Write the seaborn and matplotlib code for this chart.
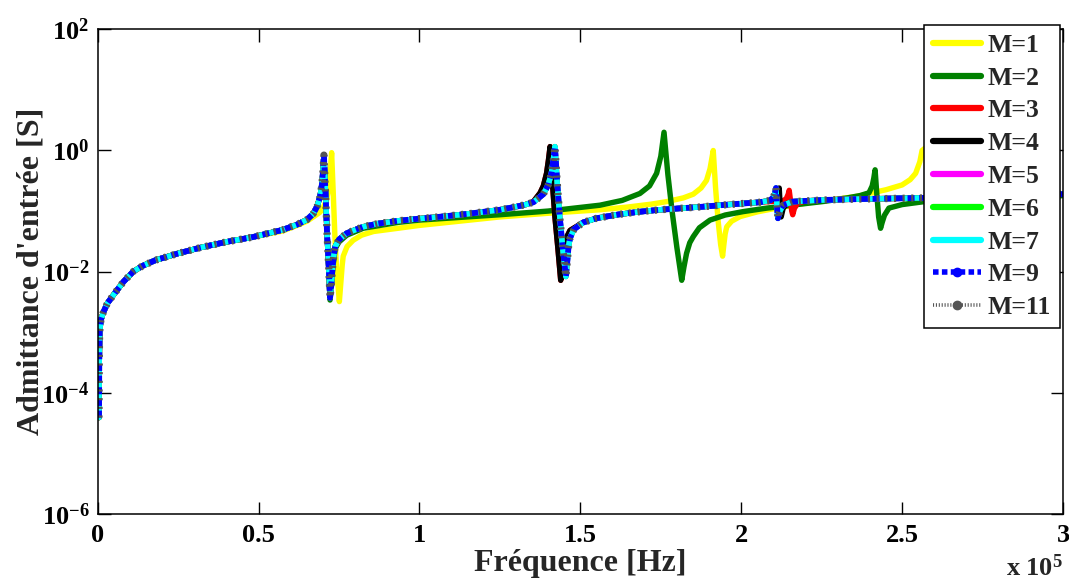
import pandas as pd
import matplotlib
matplotlib.use("Agg")
import matplotlib.pyplot as plt
import seaborn as sns
from matplotlib.lines import Line2D
from matplotlib.ticker import FixedLocator, NullLocator, FixedFormatter

# frequency in units of 1e5 Hz, admittance in S
freq_m1 = [0.004, 0.0045, 0.005, 0.006, 0.010, 0.017, 0.03, 0.054, 0.08, 0.11, 0.14, 0.18, 0.25, 0.32,
           0.40, 0.48, 0.575, 0.62, 0.65, 0.67, 0.69, 0.70, 0.711, 0.718, 0.722, 0.727, 0.732, 0.737,
           0.742, 0.751, 0.755, 0.760, 0.763, 0.775, 0.794, 0.82, 0.857, 0.933, 1.0, 1.1, 1.25, 1.4,
           1.561, 1.65, 1.72, 1.768, 1.82, 1.851, 1.875, 1.892, 1.903, 1.913, 1.92, 1.928, 1.936,
           1.942, 1.946, 1.950, 1.955, 1.97, 1.996, 2.05, 2.11, 2.213, 2.3, 2.369, 2.397, 2.45, 2.5,
           2.525, 2.542, 2.555, 2.562, 2.572, 2.585, 2.60, 2.61, 2.64, 2.75, 3.0]
adm_m1 = [3.9e-5, 1.5e-4, 4e-4, 1.0e-3, 1.6e-3, 2.1e-3, 3.0e-3, 4.5e-3, 6.8e-3, 1.0e-2, 1.25e-2, 1.55e-2,
          2.0e-2, 2.5e-2, 3.1e-2, 3.7e-2, 4.7e-2, 5.8e-2, 6.8e-2, 0.08, 0.095, 0.11, 0.15, 0.24, 0.4,
          0.92, 0.2, 0.04, 0.012, 3.2e-3, 6e-3, 0.013, 0.018, 0.026, 0.033, 0.04, 0.046, 0.052, 0.058,
          0.066, 0.08, 0.092, 0.105, 0.117, 0.13, 0.143, 0.165, 0.19, 0.24, 0.32, 0.5, 1.0, 0.25,
          0.07, 0.028, 0.018, 0.028, 0.042, 0.055, 0.068, 0.081, 0.097, 0.112, 0.139, 0.158, 0.178,
          0.195, 0.225, 0.27, 0.33, 0.42, 0.65, 1.0, 1.1, 0.2, 0.02, 0.05, 0.09, 0.13, 0.19]

freq_m2 = [0.004, 0.0045, 0.005, 0.006, 0.010, 0.017, 0.03, 0.054, 0.08, 0.11, 0.14, 0.18, 0.25, 0.32,
           0.40, 0.48, 0.575, 0.62, 0.65, 0.67, 0.682, 0.691, 0.697, 0.700, 0.703, 0.708, 0.713, 0.718,
           0.722, 0.726, 0.730, 0.738, 0.75, 0.774, 0.825, 0.933, 1.0, 1.1, 1.25, 1.4, 1.561, 1.63,
           1.685, 1.715, 1.737, 1.75, 1.760, 1.772, 1.785, 1.80, 1.815, 1.822, 1.83, 1.84, 1.851, 1.87,
           1.903, 1.95, 2.006, 2.08, 2.162, 2.26, 2.33, 2.369, 2.397, 2.407, 2.412, 2.416, 2.421, 2.427,
           2.433, 2.438, 2.445, 2.459, 2.5, 2.568, 2.8, 3.0]
adm_m2 = [3.9e-5, 1.5e-4, 4e-4, 1.0e-3, 1.6e-3, 2.1e-3, 3.0e-3, 4.5e-3, 6.8e-3, 1.0e-2, 1.25e-2, 1.55e-2,
          2.0e-2, 2.5e-2, 3.1e-2, 3.7e-2, 4.9e-2, 6.0e-2, 7.2e-2, 9.1e-2, 0.12, 0.174, 0.28, 0.45, 0.84,
          0.2, 0.04, 0.011, 3.4e-3, 5.5e-3, 0.011, 0.024, 0.031, 0.04, 0.052, 0.065, 0.071, 0.077,
          0.087, 0.1, 0.125, 0.15, 0.195, 0.26, 0.42, 0.8, 2.0, 0.4, 0.1, 0.025, 7.2e-3, 0.012, 0.02,
          0.03, 0.038, 0.053, 0.071, 0.086, 0.098, 0.112, 0.126, 0.145, 0.165, 0.18, 0.2, 0.26, 0.35,
          0.48, 0.2, 0.08, 0.052, 0.065, 0.085, 0.112, 0.128, 0.143, 0.16, 0.18]

freq_m3 = [0.004, 0.0045, 0.005, 0.006, 0.010, 0.017, 0.03, 0.054, 0.08, 0.11, 0.14, 0.18, 0.25, 0.32,
           0.40, 0.48, 0.575, 0.62, 0.65, 0.67, 0.682, 0.691, 0.697, 0.700, 0.703, 0.708, 0.713, 0.718,
           0.722, 0.726, 0.730, 0.734, 0.738, 0.75, 0.774, 0.80, 0.825, 0.87, 0.933, 1.0, 1.08, 1.15,
           1.25, 1.30, 1.33, 1.354, 1.375, 1.385, 1.395, 1.401, 1.406, 1.413, 1.421, 1.430, 1.439,
           1.443, 1.448, 1.455, 1.468, 1.509, 1.55, 1.613, 1.68, 1.747, 1.872, 1.96, 2.058, 2.10, 2.13,
           2.14, 2.146, 2.149, 2.153, 2.157, 2.160, 2.165, 2.175, 2.2, 2.25, 2.369, 2.568, 2.8, 3.0]
adm_m3 = [3.9e-5, 1.5e-4, 4e-4, 1.0e-3, 1.6e-3, 2.1e-3, 3.0e-3, 4.5e-3, 6.8e-3, 1.0e-2, 1.25e-2, 1.55e-2,
          2.0e-2, 2.5e-2, 3.1e-2, 3.7e-2, 4.9e-2, 6.0e-2, 7.2e-2, 9.1e-2, 0.12, 0.174, 0.28, 0.45, 0.84,
          0.2, 0.04, 0.012, 3.7e-3, 6e-3, 0.012, 0.019, 0.026, 0.034, 0.043, 0.049, 0.055, 0.062, 0.069,
          0.075, 0.082, 0.09, 0.105, 0.118, 0.128, 0.143, 0.2, 0.26, 0.42, 0.7, 1.16, 0.3, 0.08, 0.025,
          7.2e-3, 0.012, 0.022, 0.035, 0.048, 0.065, 0.076, 0.087, 0.097, 0.105, 0.117, 0.128, 0.14,
          0.145, 0.148, 0.16, 0.19, 0.22, 0.15, 0.1, 0.087, 0.11, 0.135, 0.147, 0.152, 0.158, 0.165,
          0.175, 0.19]

freq_m4 = [0.004, 0.0045, 0.005, 0.006, 0.010, 0.017, 0.03, 0.054, 0.08, 0.11, 0.14, 0.18, 0.25, 0.32,
           0.40, 0.48, 0.575, 0.62, 0.65, 0.67, 0.682, 0.691, 0.697, 0.700, 0.703, 0.708, 0.713, 0.718,
           0.722, 0.726, 0.730, 0.734, 0.738, 0.75, 0.774, 0.80, 0.825, 0.87, 0.933, 1.0, 1.08, 1.15,
           1.25, 1.30, 1.33, 1.354, 1.375, 1.385, 1.395, 1.401, 1.406, 1.413, 1.421, 1.430, 1.439,
           1.443, 1.448, 1.455, 1.468, 1.509, 1.55, 1.613, 1.68, 1.747, 1.872, 1.96, 2.058, 2.09, 2.105,
           2.113, 2.118, 2.121, 2.124, 2.13, 2.14, 2.16, 2.25, 2.369, 2.568, 2.8, 3.0]
adm_m4 = [3.9e-5, 1.5e-4, 4e-4, 1.0e-3, 1.6e-3, 2.1e-3, 3.0e-3, 4.5e-3, 6.8e-3, 1.0e-2, 1.25e-2, 1.55e-2,
          2.0e-2, 2.5e-2, 3.1e-2, 3.7e-2, 4.9e-2, 6.0e-2, 7.2e-2, 9.1e-2, 0.12, 0.174, 0.28, 0.45, 0.84,
          0.2, 0.04, 0.012, 3.7e-3, 6e-3, 0.012, 0.019, 0.026, 0.034, 0.043, 0.049, 0.055, 0.062, 0.069,
          0.075, 0.082, 0.09, 0.105, 0.118, 0.128, 0.143, 0.2, 0.26, 0.42, 0.7, 1.16, 0.3, 0.08, 0.025,
          7.2e-3, 0.012, 0.022, 0.035, 0.048, 0.065, 0.076, 0.087, 0.097, 0.105, 0.117, 0.128, 0.14,
          0.15, 0.16, 0.19, 0.24, 0.12, 0.08, 0.11, 0.132, 0.143, 0.152, 0.158, 0.165, 0.175, 0.19]

# M=5 ... M=11 lie on top of each other
freq_hi = [0.004, 0.0045, 0.005, 0.006, 0.010, 0.017, 0.03, 0.054, 0.08, 0.11, 0.14, 0.18, 0.25, 0.32,
           0.40, 0.48, 0.575, 0.62, 0.65, 0.67, 0.682, 0.691, 0.697, 0.700, 0.703, 0.708, 0.713, 0.718,
           0.722, 0.726, 0.730, 0.734, 0.738, 0.75, 0.774, 0.80, 0.825, 0.87, 0.933, 1.0, 1.08, 1.15,
           1.25, 1.30, 1.33, 1.354, 1.385, 1.40, 1.41, 1.416, 1.421, 1.428, 1.436, 1.445, 1.455, 1.459,
           1.463, 1.468, 1.48, 1.509, 1.55, 1.613, 1.68, 1.747, 1.872, 1.96, 2.058, 2.09, 2.100, 2.105,
           2.108, 2.111, 2.114, 2.12, 2.13, 2.16, 2.25, 2.369, 2.568, 2.8, 3.0]
adm_hi = [3.9e-5, 1.5e-4, 4e-4, 1.0e-3, 1.6e-3, 2.1e-3, 3.0e-3, 4.5e-3, 6.8e-3, 1.0e-2, 1.25e-2, 1.55e-2,
          2.0e-2, 2.5e-2, 3.1e-2, 3.7e-2, 4.9e-2, 6.0e-2, 7.2e-2, 9.1e-2, 0.12, 0.174, 0.28, 0.45, 0.84,
          0.2, 0.04, 0.012, 3.7e-3, 6e-3, 0.012, 0.019, 0.026, 0.034, 0.043, 0.049, 0.055, 0.062, 0.069,
          0.075, 0.082, 0.09, 0.105, 0.118, 0.128, 0.14, 0.19, 0.27, 0.42, 0.7, 1.16, 0.3, 0.08, 0.025,
          8.3e-3, 0.014, 0.025, 0.036, 0.05, 0.065, 0.076, 0.087, 0.097, 0.105, 0.117, 0.128, 0.14,
          0.15, 0.17, 0.2, 0.24, 0.12, 0.076, 0.1, 0.125, 0.143, 0.152, 0.158, 0.165, 0.175, 0.19]

labels = ["M=1", "M=2", "M=3", "M=4", "M=5", "M=6", "M=7", "M=9", "M=11"]
colors = ["#ffff00", "#008000", "#ff0000", "#000000", "#ff00ff", "#00ff00", "#00ffff", "#0000ff", "#555555"]
series = [(freq_m1, adm_m1), (freq_m2, adm_m2), (freq_m3, adm_m3), (freq_m4, adm_m4),
          (freq_hi, adm_hi), (freq_hi, adm_hi), (freq_hi, adm_hi), (freq_hi, adm_hi), (freq_hi, adm_hi)]

xticks = [0, 0.5, 1, 1.5, 2, 2.5, 3]
xtick_labels = ["0", "0.5", "1", "1.5", "2", "2.5", "3"]
yticks = [1e-6, 1e-4, 1e-2, 1e0, 1e2]
ytick_labels = [r"$10^{-6}$", r"$10^{-4}$", r"$10^{-2}$", r"$10^{0}$", r"$10^{2}$"]

sns.set_style("ticks")
plt.rcParams["font.family"] = ["Liberation Serif", "DejaVu Serif"]
plt.rcParams["font.weight"] = "bold"
plt.rcParams["mathtext.fontset"] = "custom"
plt.rcParams["mathtext.rm"] = "Liberation Serif:bold"
plt.rcParams["mathtext.it"] = "Liberation Serif:bold"
plt.rcParams["mathtext.bf"] = "Liberation Serif:bold"

fig = plt.figure(figsize=(10.69, 5.84), dpi=100)
ax = fig.add_axes([0.0914, 0.1199, 0.903, 0.8299])

styles = [dict(lw=3.9, ls="-")] * 7 + [dict(lw=4.2, ls=(0, (1.2, 0.8))), dict(lw=5.2, ls=(0, (0.3, 0.9)))]

handles = []
for (fx, fy), lab, col, st in zip(series, labels, colors, styles):
    df = pd.DataFrame({"freq": fx, "adm": fy})
    sns.lineplot(data=df, x="freq", y="adm", ax=ax, color=col, lw=st["lw"], ls=st["ls"],
                 estimator=None, sort=False, legend=False)
    if lab == "M=9":
        handles.append(Line2D([0, 1], [0, 0], color=col, lw=4.0, ls=(0, (1.0, 0.6)), marker="o", ms=6))
    elif lab == "M=11":
        handles.append(Line2D([0, 1], [0, 0], color=col, lw=2.6, ls=(0, (0.3, 0.5)), marker="o", ms=6))
    else:
        handles.append(Line2D([0, 1], [0, 0], color=col, lw=4.5))

ax.set_yscale("log")
ax.set_xlim(0, 3)
ax.set_ylim(1e-6, 1e2)
ax.yaxis.set_major_locator(FixedLocator(yticks))
ax.yaxis.set_major_formatter(FixedFormatter(ytick_labels))
ax.yaxis.set_minor_locator(NullLocator())
ax.set_xticks(xticks)
ax.set_xticklabels(xtick_labels)
ax.tick_params(axis="both", which="major", direction="in", length=9, width=1,
               top=True, right=True, labelsize=19, colors="black")
ax.tick_params(axis="x", pad=7)
ax.tick_params(axis="y", pad=6)
for sp in ax.spines.values():
    sp.set_linewidth(1.1)
    sp.set_color("black")

ax.set_xlabel("Fréquence [Hz]", fontsize=23, fontweight="bold", labelpad=2)
ax.set_ylabel("Admittance d'entrée [S]", fontsize=23, fontweight="bold")
ax.yaxis.set_label_coords(-0.054, 0.5)
fig.text(0.9944, 0.005, r"x $10^{5}$", ha="right", va="bottom", fontsize=19, fontweight="bold")

leg = ax.legend(handles, labels, loc="upper right", bbox_to_anchor=(0.997, 1.009), borderaxespad=0,
                handlelength=1.87, handletextpad=0.28, labelspacing=0.38,
                borderpad=0.35, fancybox=False, framealpha=1, edgecolor="black",
                prop={"weight": "bold", "size": 18.5})
leg.get_frame().set_linewidth(1.1)
for h in leg.legend_handles:
    if h.get_marker() == "o":
        h.set_markevery([1])

fig.savefig("out.png", dpi=100)
plt.close(fig)
